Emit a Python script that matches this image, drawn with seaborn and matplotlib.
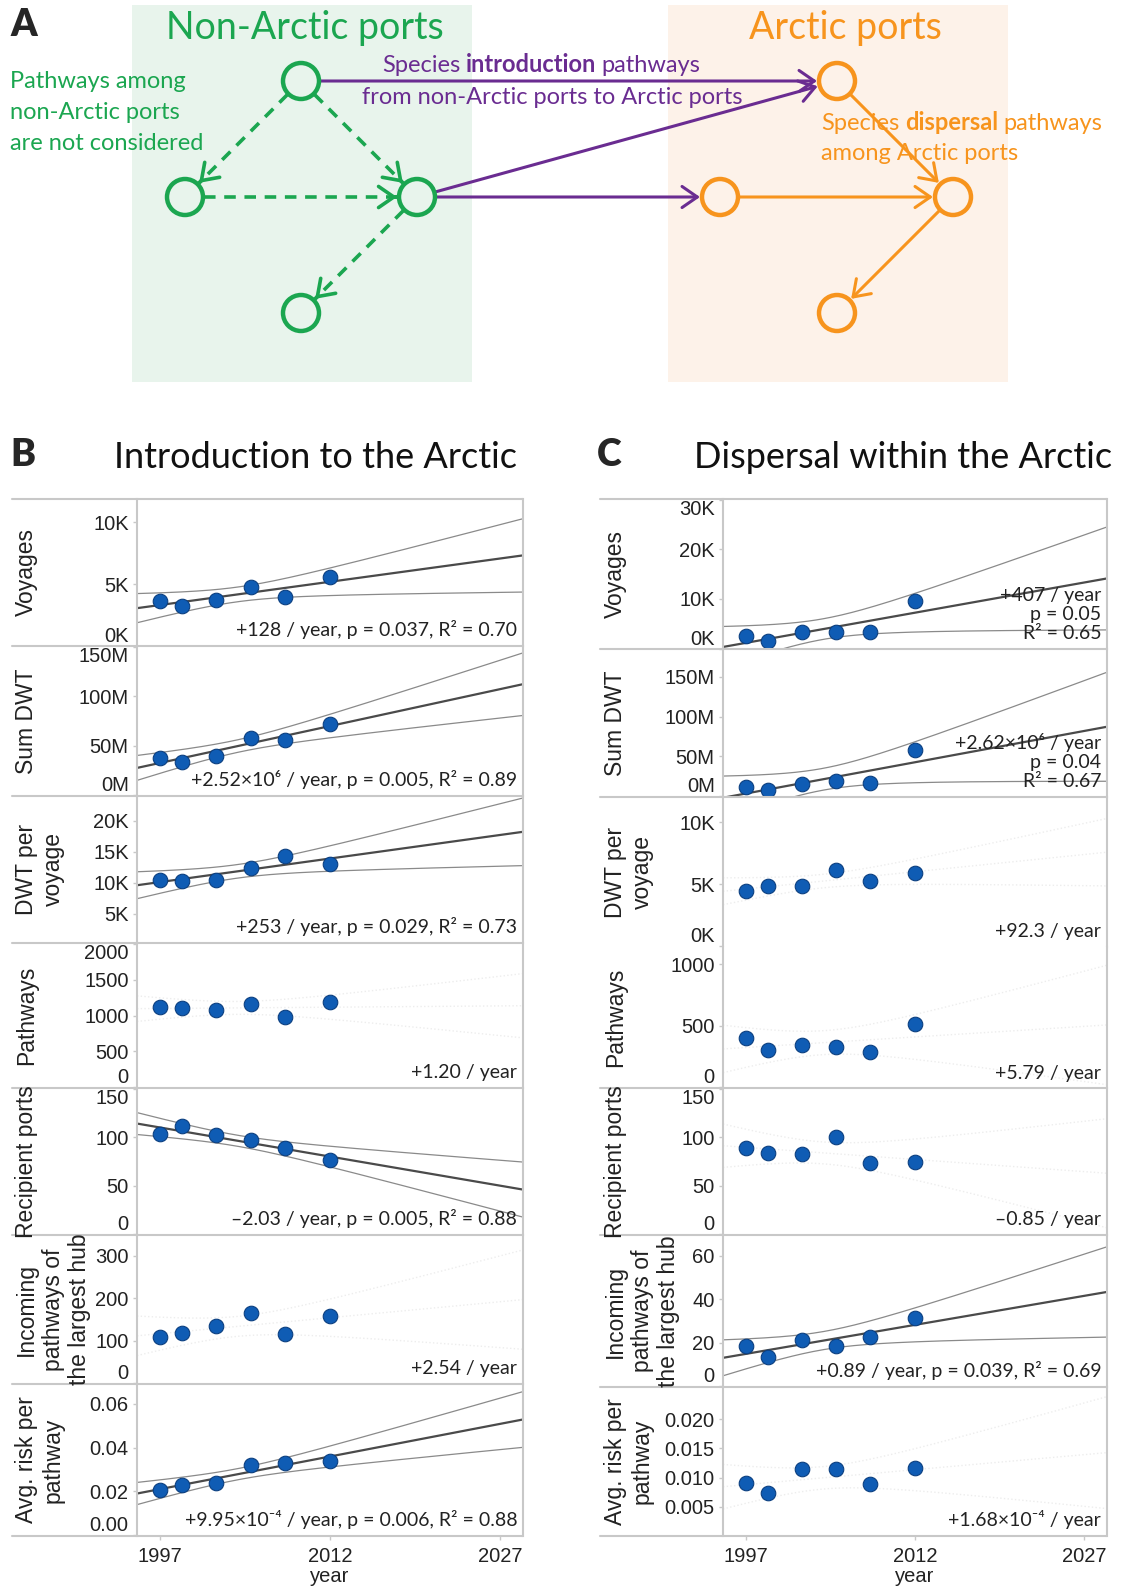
import numpy as np
import pandas as pd
import seaborn as sns
import matplotlib.pyplot as plt
from matplotlib.lines import Line2D
from matplotlib.patches import Rectangle, Circle, FancyArrowPatch

sns.set_theme(style="white")
plt.rcParams["font.family"] = ["Liberation Sans", "DejaVu Sans"]
HUMAN = ["Lato", "DejaVu Sans"]   # Myriad-like text of the figure

W, H = 1135, 1593

# ---------------- data ----------------
years = [1997, 1999, 2002, 2005, 2008, 2012]

intro_voyages = [3650, 3250, 3730, 4760, 3970, 5560]
intro_sum_dwt = [38e6, 33e6, 40e6, 58e6, 56e6, 72e6]
intro_dwt_per_voyage = [10500, 10300, 10500, 12400, 14300, 13100]
intro_pathways = [1120, 1100, 1080, 1165, 985, 1185]
intro_recipient = [103, 111.5, 102, 97, 88.5, 77]
intro_incoming = [109, 119, 135, 165, 116, 158]
intro_risk = [0.0209, 0.0228, 0.0238, 0.0322, 0.0332, 0.0341]

disp_voyages = [2450, 1600, 3300, 3300, 3300, 9500]
disp_sum_dwt = [11.2e6, 8.3e6, 15.3e6, 18.6e6, 16.1e6, 57.9e6]
disp_dwt_per_voyage = [4500, 4840, 4840, 6200, 5260, 5950]
disp_pathways = [402, 305, 341, 332, 285, 512]
disp_recipient = [89, 83.7, 82.3, 100.7, 73.7, 74.2]
disp_incoming = [18.4, 13.3, 21.2, 18.4, 22.5, 31.3]
disp_risk = [0.00902, 0.0073, 0.01144, 0.01144, 0.0089, 0.0116]

row_labels = ["Voyages", "Sum DWT", "DWT per\nvoyage", "Pathways", "Recipient ports",
              "Incoming\npathways of\nthe largest hub", "Avg. risk per\npathway"]

intro_notes = ["+128 / year, p = 0.037, R² = 0.70",
               "+2.52×10⁶ / year, p = 0.005, R² = 0.89",
               "+253 / year, p = 0.029, R² = 0.73",
               "+1.20 / year",
               "–2.03 / year, p = 0.005, R² = 0.88",
               "+2.54 / year",
               "+9.95×10⁻⁴ / year, p = 0.006, R² = 0.88"]
disp_notes = ["+407 / year\np = 0.05\nR² = 0.65",
              "+2.62×10⁶ / year\np = 0.04\nR² = 0.67",
              "+92.3 / year",
              "+5.79 / year",
              "–0.85 / year",
              "+0.89 / year, p = 0.039, R² = 0.69",
              "+1.68×10⁻⁴ / year"]
intro_trend = [True, True, True, False, True, False, True]
disp_trend = [True, True, False, False, False, True, False]

intro_yticks = [[0, 5000, 10000], [0, 50e6, 100e6, 150e6], [5000, 10000, 15000, 20000],
                [0, 500, 1000, 1500, 2000], [0, 50, 100, 150], [0, 100, 200, 300],
                [0, 0.02, 0.04, 0.06]]
intro_yticklabels = [["0K", "5K", "10K"], ["0M", "50M", "100M", "150M"],
                     ["5K", "10K", "15K", "20K"], ["0", "500", "1000", "1500", "2000"],
                     ["0", "50", "100", "150"], ["0", "100", "200", "300"],
                     ["0.00", "0.02", "0.04", "0.06"]]
disp_yticks = [[0, 10000, 20000, 30000], [0, 50e6, 100e6, 150e6], [0, 5000, 10000],
               [0, 500, 1000], [0, 50, 100, 150], [0, 20, 40, 60],
               [0.005, 0.010, 0.015, 0.020]]
disp_yticklabels = [["0K", "10K", "20K", "30K"], ["0M", "50M", "100M", "150M"],
                    ["0K", "5K", "10K"], ["0", "500", "1000"], ["0", "50", "100", "150"],
                    ["0", "20", "40", "60"], ["0.005", "0.010", "0.015", "0.020"]]

intro_ylims = [(-30, 11900), (-1e6, 151e6), (300, 24000), (-10, 2010),
               (-1, 151), (-2, 349), (-0.0003, 0.069)]
disp_ylims = [(-100, 30200), (-1e6, 185e6), (-50, 12050), (-5, 1140),
              (-1, 151), (-0.5, 69.6), (0, 0.0255)]

# ---------------- styling ----------------
GREEN, GREEN_BG = "#1ba650", "#e8f4ec"
ORANGE, ORANGE_BG = "#f7941d", "#fdf2e9"
PURPLE = "#6a2c91"
BLUE, BLUE_EDGE = "#0f5cb4", "#0b3f80"
FRAME = "#c8c8c8"
XLIM = (1995, 2029)
T95 = 2.776  # t quantile, 4 degrees of freedom

fig = plt.figure(figsize=(W / 100, H / 100), dpi=100)
fig.patch.set_facecolor("white")

# ---------------- panel A : diagram ----------------
axA = fig.add_axes([0, 1 - 400 / H, 1, 400 / H])
axA.set_xlim(0, W)
axA.set_ylim(400, 0)
axA.axis("off")
axA.add_patch(Rectangle((132, 5), 340, 377, fc=GREEN_BG, ec="none"))
axA.add_patch(Rectangle((668, 5), 340, 377, fc=ORANGE_BG, ec="none"))

R = 18
non_arctic = [(301, 81), (185, 197), (417, 197), (301, 313)]
arctic = [(837, 81), (720, 197), (953, 197), (837, 313)]


def arrow(p, q, color, dashed=False, lw=2.2):
    p, q = np.array(p, float), np.array(q, float)
    u = (q - p) / np.hypot(*(q - p))
    a, b = p + (R + 1) * u, q - (R + 2) * u
    style = "->,head_length=0.55,head_width=0.38"
    if dashed:
        axA.plot([a[0], b[0]], [a[1], b[1]], color=color, lw=lw, ls=(0, (3.2, 2.4)), zorder=3)
        a = b - u
    axA.add_patch(FancyArrowPatch(a, b, arrowstyle=style, mutation_scale=20, color=color,
                                  lw=lw, shrinkA=0, shrinkB=0, zorder=3))


for i, j in [(0, 1), (0, 2), (1, 2), (2, 3)]:
    arrow(non_arctic[i], non_arctic[j], GREEN, dashed=True, lw=2.6)
for i, j in [(0, 0), (2, 0), (2, 1)]:
    arrow(non_arctic[i], arctic[j], PURPLE)
for i, j in [(0, 2), (1, 2), (2, 3)]:
    arrow(arctic[i], arctic[j], ORANGE)
for c in non_arctic:
    axA.add_patch(Circle(c, R, fill=False, ec=GREEN, lw=3.2, zorder=4))
for c in arctic:
    axA.add_patch(Circle(c, R, fill=False, ec=ORANGE, lw=3.2, zorder=4))


def rich_line(x, y, parts, color, size):
    prev = None
    for text, bold in parts:
        kw = dict(color=color, fontsize=size, family=HUMAN, weight="bold" if bold else "normal")
        if prev is None:
            prev = axA.text(x, y, text, va="center", ha="left", **kw)
        else:
            prev = axA.annotate(text, xy=(1, 0), xycoords=prev, xytext=(4, 0),
                                textcoords="offset points", va="bottom", ha="left", **kw)


axA.text(10, 25, "A", fontsize=27, weight="heavy", va="center", ha="left", family=HUMAN)
axA.text(305, 28, "Non-Arctic ports", color=GREEN, fontsize=27, ha="center", va="center", family=HUMAN)
axA.text(845, 28, "Arctic ports", color=ORANGE, fontsize=27, ha="center", va="center", family=HUMAN)
for k, line in enumerate(["Pathways among", "non-Arctic ports", "are not considered"]):
    axA.text(10, 82 + 30.5 * k, line, color=GREEN, fontsize=17, va="center", family=HUMAN)
rich_line(382, 66, [("Species", False), ("introduction", True), ("pathways", False)], PURPLE, 17)
axA.text(552, 98, "from non-Arctic ports to Arctic ports", color=PURPLE, fontsize=17,
         ha="center", va="center", family=HUMAN)
rich_line(821, 123, [("Species", False), ("dispersal", True), ("pathways", False)], ORANGE, 17)
axA.text(821, 153, "among Arctic ports", color=ORANGE, fontsize=17, va="center", family=HUMAN)


# ---------------- panels B and C ----------------
def fit_band(x, y, xs):
    x, y = np.asarray(x, float), np.asarray(y, float)
    b, a = np.polyfit(x, y, 1)
    s = np.sqrt(np.sum((y - (a + b * x)) ** 2) / (len(x) - 2))
    se = s * np.sqrt(1 / len(x) + (xs - x.mean()) ** 2 / np.sum((x - x.mean()) ** 2))
    fit = a + b * xs
    return fit, fit - T95 * se, fit + T95 * se


def draw_panel(series, notes, trends, ylims, yticks, yticklabels, edges, left, right,
               x0, label_x, split=None):
    xs = np.linspace(XLIM[0], XLIM[1], 150)
    n = len(series)
    for i, vals in enumerate(series):
        top, bottom = edges[i], edges[i + 1]
        ax = fig.add_axes([left / W, 1 - bottom / H, (right - left) / W, (bottom - top) / H])
        fit, lo, hi = fit_band(years, vals, xs)
        if trends[i]:
            for band in (lo, hi):
                sns.lineplot(x=xs, y=band, ax=ax, color="#8a8a8a", lw=0.9)
            sns.lineplot(x=xs, y=fit, ax=ax, color="#4a4a4a", lw=1.6)
        else:
            for line in (lo, fit, hi):
                sns.lineplot(x=xs, y=line, ax=ax, color="#ededed", lw=1.0, ls=":")
        sns.scatterplot(x=years, y=vals, ax=ax, s=110, color=BLUE, edgecolor=BLUE_EDGE,
                        linewidth=0.8, zorder=5)
        ax.set_xlim(*XLIM)
        ax.set_ylim(*ylims[i])
        ax.set_yticks(yticks[i])
        ax.set_yticklabels(yticklabels[i])
        ylo, yhi = ylims[i]
        for t, lab in zip(yticks[i], ax.get_yticklabels()):
            f = (t - ylo) / (yhi - ylo)
            if f < 0.06:
                lab.set_va("bottom")
            elif f > 0.94:
                lab.set_va("top")
        ax.set_xticks([1997, 2012, 2027])
        ax.set_ylabel("")
        ax.set_xlabel("")
        ax.tick_params(axis="y", left=True, length=3, width=1, color=FRAME, pad=3,
                       labelsize=14.5, labelcolor="#222222")
        if i == n - 1:
            ax.set_xticklabels(["1997", "2012", "2027"])
            ax.tick_params(axis="x", bottom=True, length=3, width=1, color=FRAME, pad=5,
                           labelsize=14.5, labelcolor="#222222")
            ax.set_xlabel("year", fontsize=14.5, color="#222222", labelpad=1)
        else:
            ax.tick_params(axis="x", bottom=False, labelbottom=False)
        for side in ("top", "bottom"):
            ax.spines[side].set_visible(False)
        for side in ("left", "right"):
            ax.spines[side].set_color(FRAME)
            ax.spines[side].set_linewidth(1.5)
        ax.text(0.985, 0.045, notes[i], transform=ax.transAxes, ha="right", va="bottom",
                fontsize=14, family=HUMAN, color="#222222", linespacing=1.15, zorder=6)
        fig.text(label_x / W, 1 - (top + bottom) / 2 / H, row_labels[i], rotation=90,
                 ha="left", va="center", multialignment="center", fontsize=16.5,
                 color="#222222", linespacing=1.2)
    for k, e in enumerate(edges):
        if split is not None and k == split:
            continue
        fig.add_artist(Line2D([x0 / W, right / W], [1 - e / H, 1 - e / H], color=FRAME, lw=1.5))


B_edges = [499, 646, 796, 943, 1088, 1235, 1384, 1536]
C_edges = [499, 649, 797, 947, 1088, 1235, 1387, 1536]

draw_panel([intro_voyages, intro_sum_dwt, intro_dwt_per_voyage, intro_pathways,
            intro_recipient, intro_incoming, intro_risk],
           intro_notes, intro_trend, intro_ylims, intro_yticks, intro_yticklabels,
           B_edges, 137, 523, 12, 15)
draw_panel([disp_voyages, disp_sum_dwt, disp_dwt_per_voyage, disp_pathways,
            disp_recipient, disp_incoming, disp_risk],
           disp_notes, disp_trend, disp_ylims, disp_yticks, disp_yticklabels,
           C_edges, 723, 1107, 600, 604, split=3)

fig.text(10 / W, 1 - 455 / H, "B", fontsize=27, weight="heavy", va="center", family=HUMAN)
fig.text(114 / W, 1 - 457 / H, "Introduction to the Arctic", fontsize=26, va="center", family=HUMAN,
         color="#111111")
fig.text(597 / W, 1 - 455 / H, "C", fontsize=27, weight="heavy", va="center", family=HUMAN)
fig.text(694 / W, 1 - 457 / H, "Dispersal within the Arctic", fontsize=26, va="center", family=HUMAN,
         color="#111111")

fig.savefig("out.png", dpi=100, facecolor="white")
